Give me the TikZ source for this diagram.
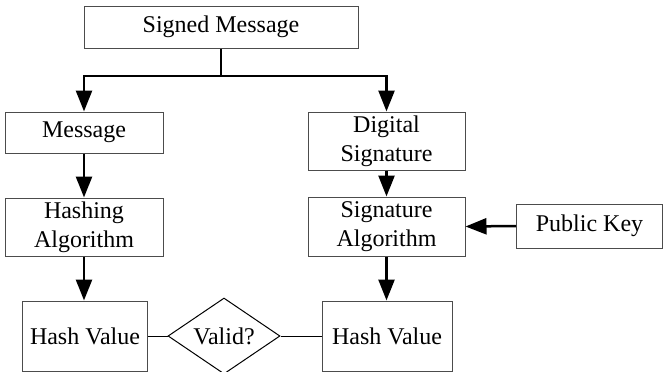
\documentclass[tikz,border=0pt]{standalone}
\usepackage{fontspec}
\setmainfont{Liberation Serif}
\usetikzlibrary{arrows.meta,shapes.geometric}
\begin{document}
\begin{tikzpicture}[x=1pt,y=-1pt,
  box/.style={draw=black!70,line width=1pt,inner sep=0pt,align=center,
    font=\fontsize{24}{29}\selectfont},
  flow/.style={line width=2.5pt,-{Triangle[length=21pt,width=16pt]}},
  thin/.style={line width=1pt}]
\useasboundingbox (0,0) rectangle (667,372);
\node[box,minimum width=274pt,minimum height=42pt] (sm) at (221,27) {Signed Message};
\node[box,minimum width=158pt,minimum height=41pt] (msg) at (84,132.5) {Message};
\node[box,minimum width=157pt,minimum height=58pt] (ds) at (386.5,141) {Digital\\Signature};
\node[box,minimum width=158pt,minimum height=58pt] (ha) at (84,227) {Hashing\\Algorithm};
\node[box,minimum width=157pt,minimum height=59pt] (sa) at (386.5,226.5) {Signature\\Algorithm};
\node[box,minimum width=146pt,minimum height=44pt,anchor=west] (pk) at (516,226) {Public Key};
\node[box,minimum width=125pt,minimum height=70pt] (hl) at (85,336) {Hash Value};
\node[box,minimum width=130pt,minimum height=70pt] (hr) at (387,336) {Hash Value};
\node[box,draw=black,diamond,aspect=1.47,minimum width=112pt,minimum height=76pt] (v) at (224,336) {Valid?};
\coordinate (split) at (221,76);
\draw[line width=2.5pt] (sm.south) -- (split);
\draw[flow] (split) -| (msg.north);
\draw[flow] (split) -| (ds.north);
\draw[flow] (msg.south) -- (ha.north);
\draw[flow] (ds.south) -- (sa.north);
\draw[flow] (ha.south) -- (ha.south |- hl.north);
\draw[flow] (sa.south) -- (sa.south |- hr.north);
\draw[flow] (pk.west) -- (sa.east);
\draw[thin] (hl.east) -- (v.west);
\draw[thin] (v.east) -- (hr.west);
\end{tikzpicture}
\end{document}
